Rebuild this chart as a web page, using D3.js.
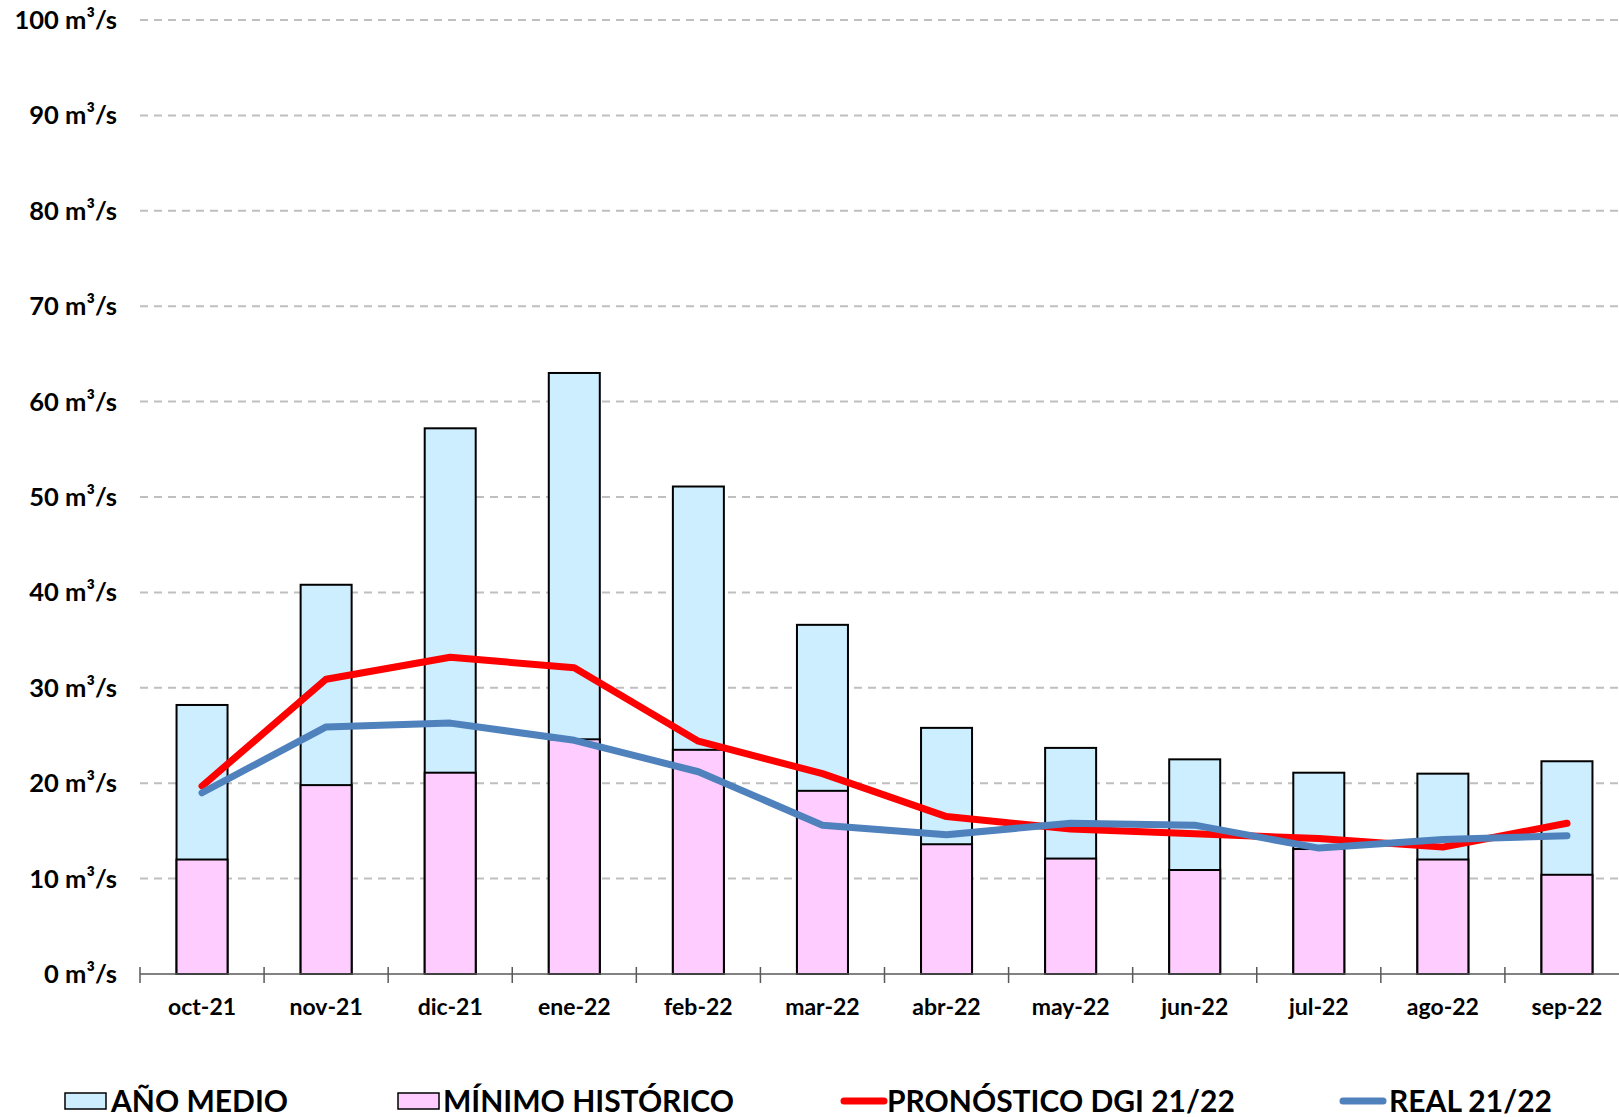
<!DOCTYPE html>
<html>
<head>
<meta charset="utf-8">
<script src="https://cdn.jsdelivr.net/npm/d3@7"></script>
<style>
  body { margin: 0; background: #fff; overflow: hidden; }
  svg { font-family: Lato, sans-serif; display: block; }
</style>
</head>
<body>
<svg id="chart" width="1619" height="1117"></svg>
<script>
const months = ['oct-21', 'nov-21', 'dic-21', 'ene-22', 'feb-22', 'mar-22', 'abr-22', 'may-22', 'jun-22', 'jul-22', 'ago-22', 'sep-22'];
const anoMedio = [28.2, 40.8, 57.2, 63.0, 51.1, 36.6, 25.8, 23.7, 22.5, 21.1, 21.0, 22.3];
const minimoHistorico = [12.0, 19.8, 21.1, 24.6, 23.5, 19.2, 13.6, 12.1, 10.9, 13.1, 12.0, 10.4];
const pronostico = [19.7, 30.9, 33.2, 32.1, 24.4, 21.0, 16.5, 15.2, 14.7, 14.2, 13.3, 15.8];
const real = [19.0, 25.9, 26.3, 24.5, 21.2, 15.6, 14.6, 15.8, 15.6, 13.2, 14.1, 14.5];
const yTicks = [0, 10, 20, 30, 40, 50, 60, 70, 80, 90, 100];

const svg = d3.select('#chart');
const width = 1619;
// plot area runs past the right edge, as in the original (cropped) image
const plot = { left: 140, right: 1629, top: 20, bottom: 974 };

const x = d3.scaleBand()
  .domain(months)
  .range([plot.left, plot.right]);

const y = d3.scaleLinear()
  .domain([0, 100])
  .range([plot.bottom, plot.top]);

// grid
svg.append('g')
  .selectAll('line')
  .data(yTicks.filter((d) => d > 0))
  .join('line')
  .attr('x1', plot.left)
  .attr('x2', width)
  .attr('y1', (d) => y(d))
  .attr('y2', (d) => y(d))
  .attr('stroke', '#bfbfbf')
  .attr('stroke-width', 2)
  .attr('stroke-dasharray', '8,6');

// y labels
svg.append('g')
  .selectAll('text')
  .data(yTicks)
  .join('text')
  .attr('x', 117)
  .attr('y', (d) => y(d))
  .attr('dy', '0.35em')
  .attr('text-anchor', 'end')
  .attr('font-size', 25.5)
  .attr('font-weight', 'bold')
  .attr('fill', '#000')
  .text((d) => `${d} m³/s`);

const barW = 51;

svg.append('g')
  .selectAll('rect')
  .data(months)
  .join('rect')
  .attr('x', (d) => x(d) + x.bandwidth() / 2 - barW / 2)
  .attr('y', (d, i) => y(anoMedio[i]))
  .attr('width', barW)
  .attr('height', (d, i) => y(0) - y(anoMedio[i]))
  .attr('fill', '#cceeff')
  .attr('stroke', '#000')
  .attr('stroke-width', 2);

svg.append('g')
  .selectAll('rect')
  .data(months)
  .join('rect')
  .attr('x', (d) => x(d) + x.bandwidth() / 2 - barW / 2)
  .attr('y', (d, i) => y(minimoHistorico[i]))
  .attr('width', barW)
  .attr('height', (d, i) => y(0) - y(minimoHistorico[i]))
  .attr('fill', '#ffccff')
  .attr('stroke', '#000')
  .attr('stroke-width', 2);

// x axis
const xAxis = svg.append('g')
  .attr('transform', `translate(0,${y(0)})`);
xAxis.append('line')
  .attr('x1', plot.left)
  .attr('x2', width)
  .attr('stroke', '#595959')
  .attr('stroke-width', 1.5);
xAxis.selectAll('line.tick')
  .data(d3.range(months.length))
  .join('line')
  .attr('class', 'tick')
  .attr('x1', (i) => plot.left + i * x.step())
  .attr('x2', (i) => plot.left + i * x.step())
  .attr('y1', -7)
  .attr('y2', 9)
  .attr('stroke', '#595959')
  .attr('stroke-width', 1.5);
xAxis.selectAll('text')
  .data(months)
  .join('text')
  .attr('x', (d) => x(d) + x.bandwidth() / 2)
  .attr('y', 33)
  .attr('dy', '0.35em')
  .attr('text-anchor', 'middle')
  .attr('font-size', 23)
  .attr('font-weight', 'bold')
  .text((d) => d);

const lineGen = d3.line()
  .x((d, i) => x(months[i]) + x.bandwidth() / 2)
  .y((d) => y(d));

svg.append('path')
  .attr('d', lineGen(pronostico))
  .attr('fill', 'none')
  .attr('stroke', '#ff0000')
  .attr('stroke-width', 7)
  .attr('stroke-linecap', 'round')
  .attr('stroke-linejoin', 'round');

svg.append('path')
  .attr('d', lineGen(real))
  .attr('fill', 'none')
  .attr('stroke', '#4f81bd')
  .attr('stroke-width', 7)
  .attr('stroke-linecap', 'round')
  .attr('stroke-linejoin', 'round');

// legend
const legendY = 1101;
const legendItems = [
  { label: 'AÑO MEDIO', type: 'rect', color: '#cceeff', x: 65, tx: 111 },
  { label: 'MÍNIMO HISTÓRICO', type: 'rect', color: '#ffccff', x: 398, tx: 443 },
  { label: 'PRONÓSTICO DGI 21/22', type: 'line', color: '#ff0000', x: 841, tx: 887 },
  { label: 'REAL 21/22', type: 'line', color: '#4f81bd', x: 1340, tx: 1389 },
];
const legend = svg.append('g');
legendItems.forEach((d) => {
  if (d.type === 'rect') {
    legend.append('rect')
      .attr('x', d.x)
      .attr('y', legendY - 8)
      .attr('width', 41)
      .attr('height', 16)
      .attr('fill', d.color)
      .attr('stroke', '#000')
      .attr('stroke-width', 1.5);
  } else {
    legend.append('line')
      .attr('x1', d.x + 3)
      .attr('x2', d.x + 43)
      .attr('y1', legendY)
      .attr('y2', legendY)
      .attr('stroke', d.color)
      .attr('stroke-width', 7)
      .attr('stroke-linecap', 'round');
  }
  legend.append('text')
    .attr('x', d.tx)
    .attr('y', legendY)
    .attr('dy', '0.36em')
    .attr('font-size', 30)
    .attr('font-weight', 'bold')
    .text(d.label);
});
</script>
</body>
</html>
